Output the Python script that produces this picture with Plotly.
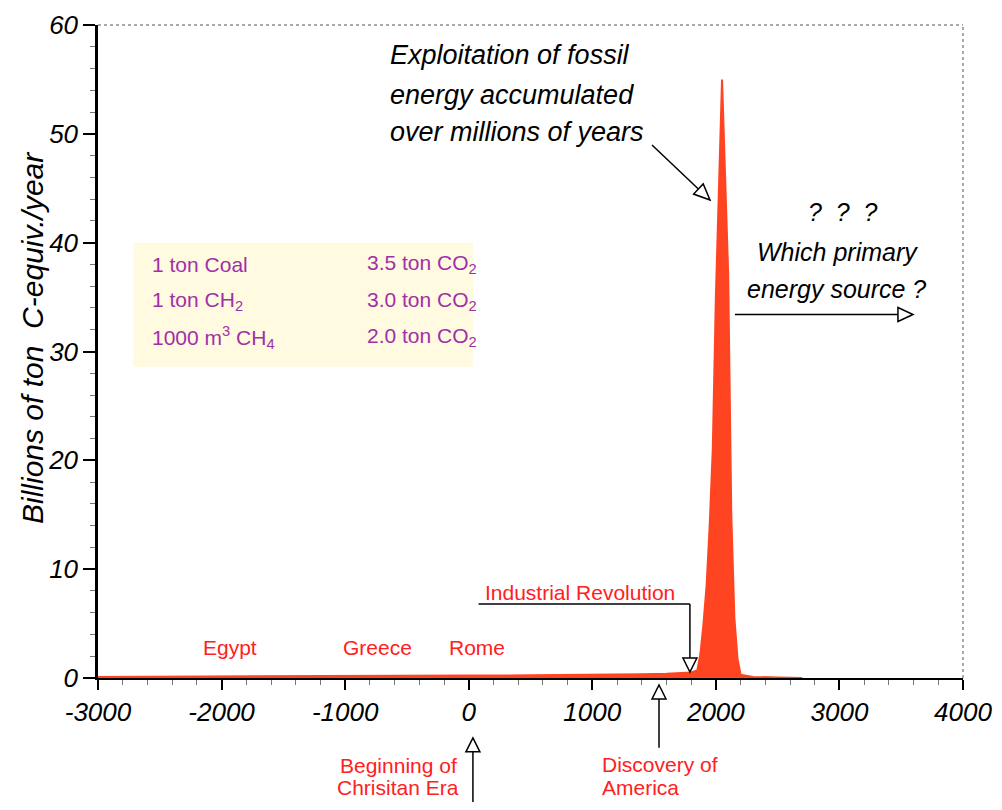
import math
import plotly.graph_objects as go

# ---------------- data ----------------
years = [-3000, -2000, -1500, -1000, -500, 0, 500, 1000, 1400, 1600, 1800,
         1850, 1875, 1900, 1925, 1950, 1975, 2000, 2025, 2050, 2075, 2100,
         2110, 2125, 2150, 2175, 2200, 2300, 2500, 2700]
emissions = [0.10, 0.12, 0.15, 0.18, 0.20, 0.22, 0.25, 0.28, 0.35, 0.40, 0.50,
             0.7, 2.2, 5.0, 8.5, 14.0, 21.0, 35.0, 44.0, 55.0, 46.0, 37.0,
             28.0, 15.0, 5.5, 1.8, 0.3, 0.1, 0.05, 0.0]

x_ticks = [-3000, -2000, -1000, 0, 1000, 2000, 3000, 4000]
y_ticks = [0, 10, 20, 30, 40, 50, 60]

box_left = ["1 ton Coal", "1 ton CH<sub>2</sub>", "1000 m<sup>3</sup> CH<sub>4</sub>"]
box_right = ["3.5 ton CO<sub>2</sub>", "3.0 ton CO<sub>2</sub>", "2.0 ton CO<sub>2</sub>"]

eras = ["Egypt", "Greece", "Rome"]
era_years = [-1932, -742, 68]

# ---------------- geometry helpers ----------------
OFF = 8                      # page body margin
W, H = 986, 794
L, T = 90, 17
PLOT_RIGHT_PAGE, PLOT_BOTTOM_PAGE = 963, 678
PW = PLOT_RIGHT_PAGE - (L + OFF)
PH = PLOT_BOTTOM_PAGE - (T + OFF)
R = W - L - PW
B = H - T - PH
X0, X1, Y0, Y1 = -3000, 4000, 0, 60

def xpix(yr):              # page pixel
    return L + OFF + (yr - X0) / (X1 - X0) * PW

def ypix(v):
    return T + OFF + (Y1 - v) / (Y1 - Y0) * PH

def px2paper(px, py):
    return (px - L - OFF) / PW, (T + OFF + PH - py) / PH

def dpaper(yr, v):
    return px2paper(xpix(yr), ypix(v))

RED = "#FF2020"
PURPLE = "#A030A8"
FILL = "#FF4422"
FONT = "Liberation Sans"

fig = go.Figure()
fig.add_trace(go.Scatter(
    x=years, y=emissions, mode="lines", fill="tozeroy",
    line=dict(color=FILL, width=2), fillcolor=FILL, hoverinfo="skip",
    showlegend=False))

shapes = []
annotations = []

def line_px(p1, p2, width=1.5, color="black"):
    a = px2paper(*p1)
    b = px2paper(*p2)
    shapes.append(dict(type="line", xref="paper", yref="paper",
                       x0=a[0], y0=a[1], x1=b[0], y1=b[1],
                       line=dict(color=color, width=width)))

def head_px(tip, direction, length=15, half=7):
    dx, dy = direction
    n = math.hypot(dx, dy)
    dx, dy = dx / n, dy / n
    bx, by = tip[0] - dx * length, tip[1] - dy * length
    nx, ny = -dy, dx
    pts = [tip, (bx + nx * half, by + ny * half), (bx - nx * half, by - ny * half)]
    pp = [px2paper(*p) for p in pts]
    path = "M {} {} L {} {} L {} {} Z".format(pp[0][0], pp[0][1], pp[1][0], pp[1][1], pp[2][0], pp[2][1])
    shapes.append(dict(type="path", xref="paper", yref="paper", path=path,
                       fillcolor="white", line=dict(color="black", width=1.5)))
    return (bx, by)

def arrow_px(start, tip, length=15, half=7):
    d = (tip[0] - start[0], tip[1] - start[1])
    base = head_px(tip, d, length, half)
    line_px(start, base)

def text(yr, v, s, size=21, color=RED, xanchor="center", italic=False, angle=0):
    x, y = dpaper(yr, v)
    annotations.append(dict(x=x, y=y, xref="paper", yref="paper", text=s,
                            showarrow=False, xanchor=xanchor, yanchor="middle",
                            textangle=angle,
                            font=dict(family=FONT, size=size, color=color,
                                      style="italic" if italic else "normal")))

# ---- border (top / right dotted) ----
shapes.append(dict(type="line", xref="paper", yref="paper", x0=0, y0=1, x1=1, y1=1,
                   line=dict(color="#555555", width=1, dash="dot")))
shapes.append(dict(type="line", xref="paper", yref="paper", x0=1, y0=0, x1=1, y1=1,
                   line=dict(color="#555555", width=1, dash="dot")))

# ---- y-axis title (as rotated annotation) ----
tx, ty = px2paper(33, 338)
annotations.append(dict(x=tx, y=ty, xref="paper", yref="paper",
                        text="Billions of ton  C-equiv./year", showarrow=False,
                        textangle=-90, xanchor="center", yanchor="middle",
                        font=dict(family=FONT, size=30, color="black", style="italic")))

# ---- conversion box ----
bx0, by0 = dpaper(-2716, 40.0)
bx1, by1 = dpaper(34, 28.6)
shapes.append(dict(type="rect", xref="paper", yref="paper", x0=bx0, y0=by1, x1=bx1, y1=by0,
                   fillcolor="#FFFAE0", line=dict(width=0), layer="below"))
for i, v in enumerate([38.0, 34.6, 31.3]):
    text(-2580, v, box_left[i], size=21, color=PURPLE, xanchor="left")
    text(-838, v, box_right[i], size=21, color=PURPLE, xanchor="left")

# ---- era labels ----
for name, yr in zip(eras, era_years):
    text(yr, 2.8, name, size=21)

# ---- Industrial revolution ----
text(900, 7.9, "Industrial Revolution", size=21)
line_px((xpix(80), ypix(6.8)), (xpix(1790), ypix(6.8)))
arrow_px((xpix(1790), ypix(6.8)), (xpix(1790), ypix(0.55)), length=14, half=7)

# ---- Discovery of America ----
arrow_px((xpix(1540), ypix(-6.4)), (xpix(1540), ypix(-0.64)), length=14, half=7)
text(1063, -7.95, "Discovery of", size=21, xanchor="left")
text(1063, -10.1, "America", size=21, xanchor="left")

# ---- Beginning of Christian Era ----
arrow_px((xpix(34), ypix(-11.6)), (xpix(34), ypix(-5.5)), length=14, half=7)
text(-570, -8.0, "Beginning of", size=21)
text(-570, -10.1, "Chrisitan Era", size=21)

# ---- fossil exploitation ----
text(-654, 57.2, "Exploitation of fossil", size=27, color="black", xanchor="left", italic=True)
text(-654, 53.6, "energy accumulated", size=27, color="black", xanchor="left", italic=True)
text(-654, 50.2, "over millions of years", size=27, color="black", xanchor="left", italic=True)
arrow_px((652, 145), (710, 200), length=16, half=7)

# ---- future ----
text(3030, 42.8, "?  ?  ?", size=25, color="black", italic=True)
text(2988, 39.1, "Which primary", size=25, color="black", italic=True)
text(2980, 35.7, "energy source ?", size=25, color="black", italic=True)
arrow_px((xpix(2155), ypix(33.4)), (xpix(3595), ypix(33.4)), length=15, half=7)

fig.update_layout(
    width=W, height=H,
    margin=dict(l=L, r=R, t=T, b=B, autoexpand=False),
    paper_bgcolor="white", plot_bgcolor="white",
    shapes=shapes, annotations=annotations,
    showlegend=False,
    xaxis=dict(range=[X0, X1], tickvals=x_ticks, ticktext=[str(v) for v in x_ticks],
               automargin=False,
               showgrid=False, zeroline=False, showline=True, linecolor="black", linewidth=2,
               ticks="outside", ticklen=10, tickwidth=1.5, tickcolor="black",
               tickfont=dict(family=FONT, size=26, color="black", style="italic"),
               minor=dict(dtick=200, ticks="outside", ticklen=5, tickcolor="#777777", tickwidth=1)),
    yaxis=dict(range=[Y0, Y1], tickvals=y_ticks, ticktext=[str(v) for v in y_ticks],
               automargin=False,
               showgrid=False, zeroline=False, showline=True, linecolor="black", linewidth=2.5,
               ticks="outside", ticklen=12, tickwidth=1.5, tickcolor="black",
               tickfont=dict(family=FONT, size=26, color="black", style="italic"),
               minor=dict(dtick=2, ticks="outside", ticklen=5, tickcolor="#777777", tickwidth=1)),
)

fig.write_html("out.html")
